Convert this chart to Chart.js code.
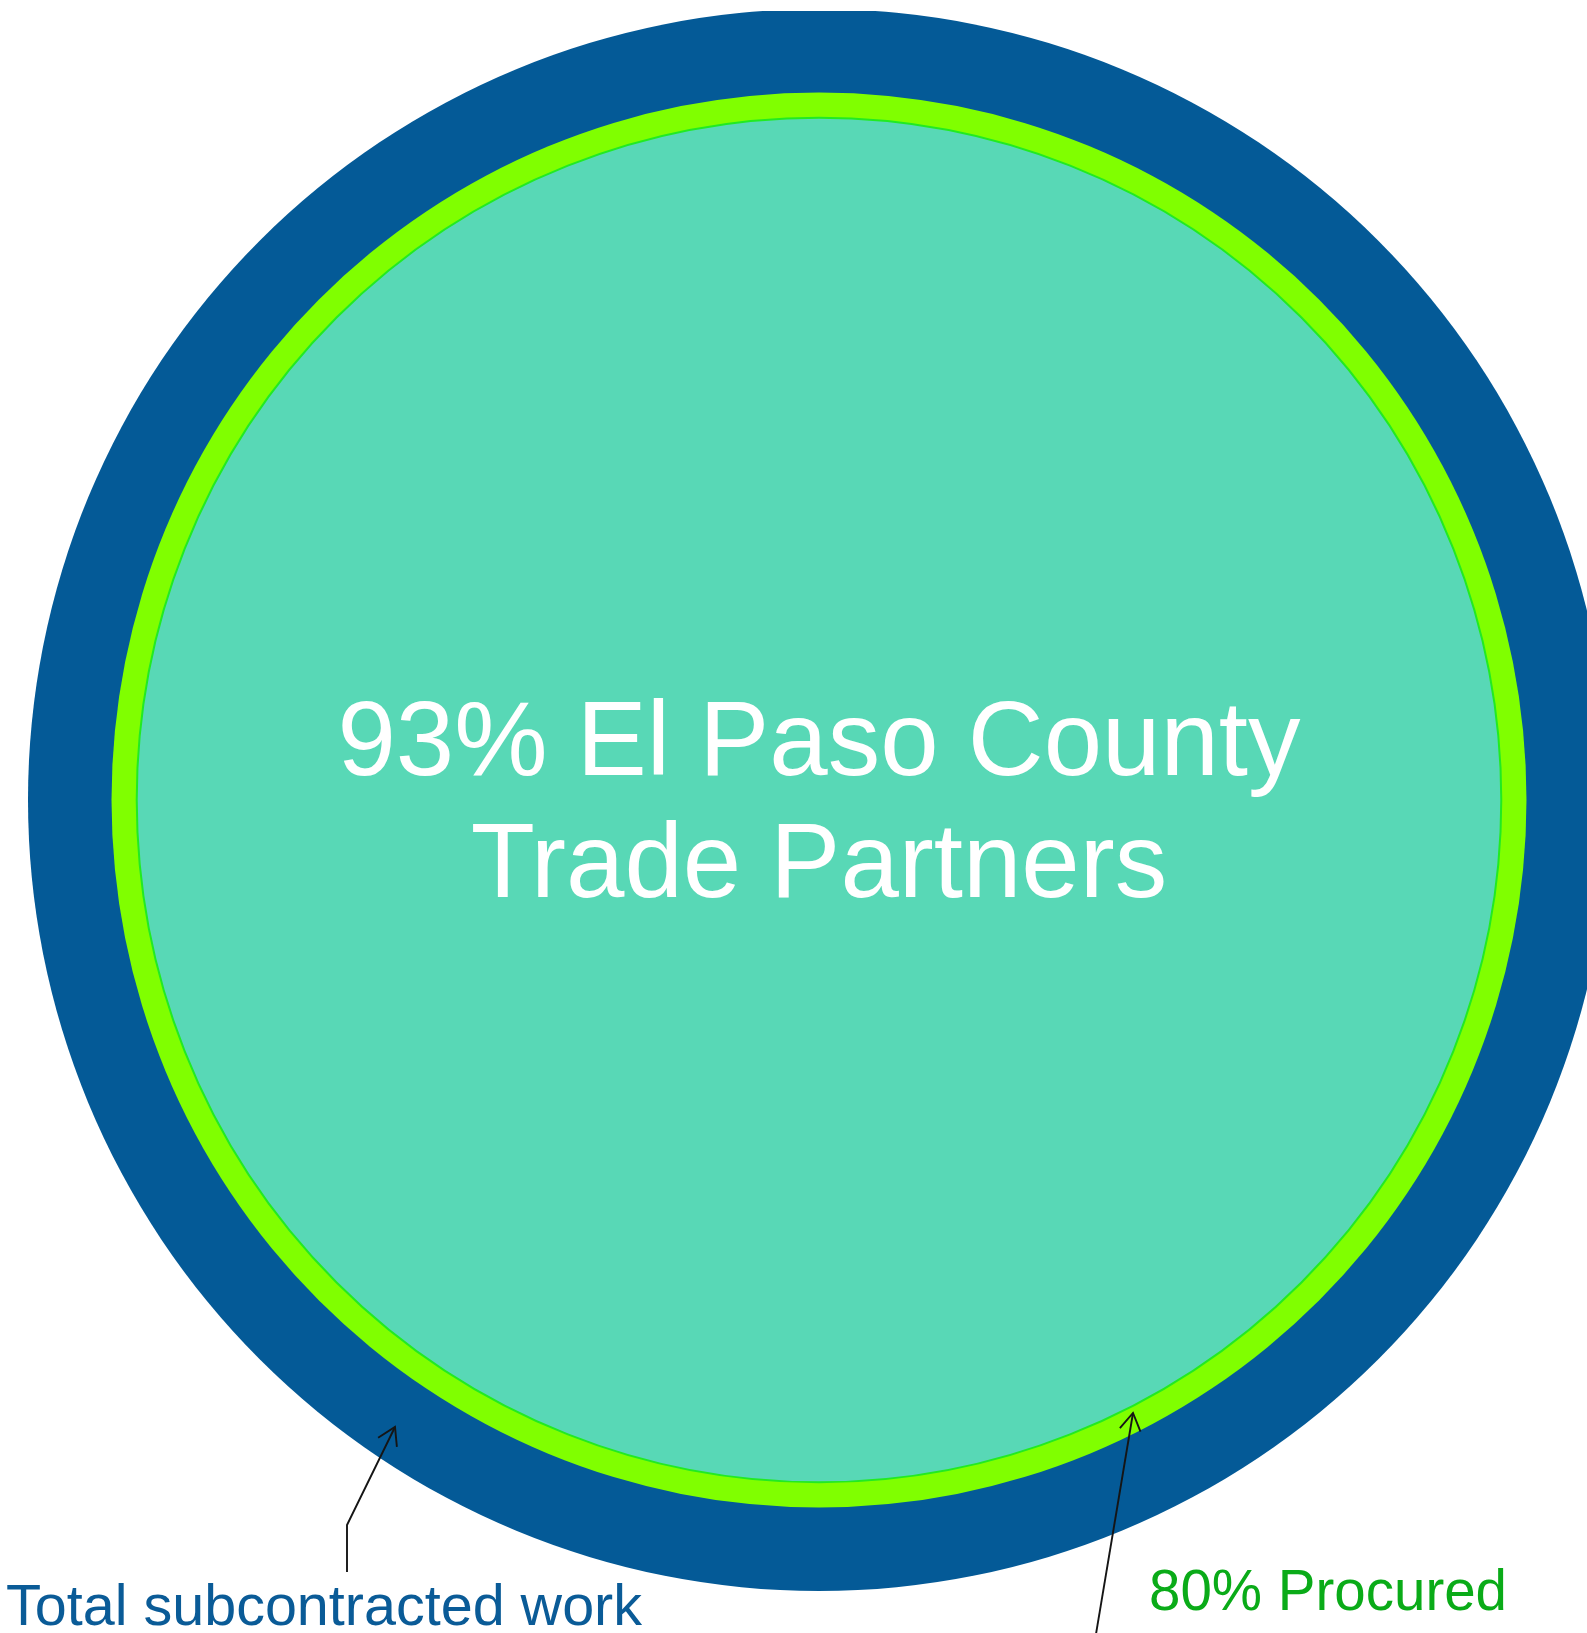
<!DOCTYPE html>
<html>
<head>
<meta charset="utf-8">
<script src="https://cdn.jsdelivr.net/npm/chart.js@4.4.1/dist/chart.umd.min.js"></script>
<style>
    html, body { margin: 0; padding: 0; background: #ffffff; overflow: hidden; }
    #wrap { position: absolute; left: 0; top: 11px; width: 1640px; height: 1622px; }
</style>
</head>
<body>
<div id="wrap"><canvas id="circleChart"></canvas></div>
<script>
// 面積 = 全下請け工事に対する割合 (%)
const groups = ['El Paso County Trade Partners', 'Procured', 'Total subcontracted work'];
const shareOfTotal = [74.4, 80, 100];   // 93% of the 80% procured
const labelPct = [93, 80, 100];
const fillColors = ['#58d8b6', '#80ff00', '#045a97'];
const edgeColors = ['#22ea22', '#80ff00', '#045a97'];
const edgeWidths = [2, 0, 0];

const OUTER_R = 791;
const TOP = 11; // canvas starts 11px down (the circle top is cut off)

document.addEventListener('DOMContentLoaded', () => {
    const canvas = document.getElementById('circleChart');
    if (!canvas || !window.Chart) {
        return;
    }

    const datasets = groups.map((name, i) => ({
        label: name,
        data: [{ x: 0, y: 0, r: OUTER_R * Math.sqrt(shareOfTotal[i] / 100) }],
        backgroundColor: fillColors[i],
        borderColor: edgeColors[i],
        borderWidth: edgeWidths[i],
        hoverRadius: 0,
        clip: false
    }));

    function arrowHead(ctx, tx, ty, fx, fy) {
        const ang = Math.atan2(ty - fy, tx - fx);
        const len = 20, spread = 0.55;
        ctx.beginPath();
        ctx.moveTo(tx - len * Math.cos(ang - spread), ty - len * Math.sin(ang - spread));
        ctx.lineTo(tx, ty);
        ctx.lineTo(tx - len * Math.cos(ang + spread), ty - len * Math.sin(ang + spread));
        ctx.stroke();
    }

    // 中央ラベルと注記
    const notes = {
        id: 'notes',
        afterDraw(chart) {
            const ctx = chart.ctx;
            const cx = chart.scales.x.getPixelForValue(0);
            ctx.save();
            ctx.translate(0, -TOP);
            ctx.textAlign = 'center';
            ctx.textBaseline = 'alphabetic';
            ctx.fillStyle = '#ffffff';
            ctx.font = '105px "Liberation Sans", Arial, Helvetica, sans-serif';
            ctx.fillText(labelPct[0] + '% El Paso County', cx, 775);
            ctx.fillText('Trade Partners', cx, 897);

            ctx.textAlign = 'left';
            ctx.font = '57.5px "Liberation Sans", Arial, Helvetica, sans-serif';
            ctx.fillStyle = '#0a5b97';
            ctx.fillText(groups[2], 6, 1625);
            ctx.fillStyle = '#0aab18';
            ctx.font = '56.5px "Liberation Sans", Arial, Helvetica, sans-serif';
            ctx.fillText(labelPct[1] + '% ' + groups[1], 1149, 1610);

            ctx.strokeStyle = '#151515';
            ctx.lineWidth = 1.9;
            ctx.beginPath();
            ctx.moveTo(347, 1572);
            ctx.lineTo(347, 1525);
            ctx.lineTo(395, 1427);
            ctx.stroke();
            arrowHead(ctx, 395, 1427, 347, 1525);

            ctx.beginPath();
            ctx.moveTo(1095, 1640);
            ctx.lineTo(1133, 1413);
            ctx.stroke();
            arrowHead(ctx, 1133, 1413, 1095, 1640);
            ctx.restore();
        }
    };

    new Chart(canvas.getContext('2d'), {
        type: 'bubble',
        data: { datasets: datasets },
        options: {
            responsive: true,
            maintainAspectRatio: false,
            animation: false,
            events: [],
            layout: {
                autoPadding: false,
                padding: { left: 0, right: 2, top: 0, bottom: 44 }
            },
            scales: {
                x: { display: false, min: -1, max: 1 },
                y: { display: false, min: -1, max: 1 }
            },
            plugins: {
                legend: { display: false },
                tooltip: { enabled: false }
            }
        },
        plugins: [notes]
    });
});
</script>
</body>
</html>
